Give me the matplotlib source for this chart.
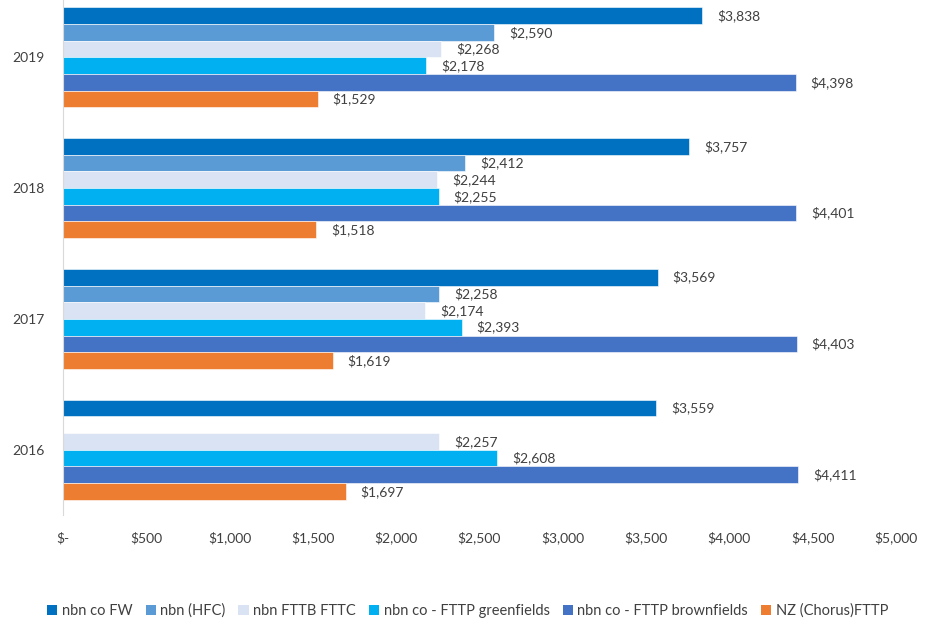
import numpy as np
import matplotlib.pyplot as plt
from matplotlib.patches import Patch

plt.rcParams['font.family'] = ['Lato', 'DejaVu Sans']

# Jahre (von oben nach unten) und Serien
years = ["2019", "2018", "2017", "2016"]
series = ["nbn co FW", "nbn (HFC)", "nbn FTTB FTTC",
          "nbn co - FTTP greenfields", "nbn co - FTTP brownfields",
          "NZ (Chorus)FTTP"]
colors = ["#0070C0", "#5B9BD5", "#DAE3F3", "#00B0F0", "#4472C4", "#ED7D31"]

fw = [3838, 3757, 3569, 3559]
hfc = [2590, 2412, 2258, np.nan]
fttb = [2268, 2244, 2174, 2257]
green = [2178, 2255, 2393, 2608]
brown = [4398, 4401, 4403, 4411]
nz = [1529, 1518, 1619, 1697]

werte = [fw, hfc, fttb, green, brown, nz]

fig = plt.figure(figsize=(9.26, 6.22), dpi=100)
ax = fig.add_axes([0.068, 0.172, 0.8996, 0.841])

n = len(series)
grp = 0.765
h = grp / n
pos = np.arange(len(years))

for i, (vals, c) in enumerate(zip(werte, colors)):
    y = pos - grp / 2 + h * (i + 0.5)
    for yy, v in zip(y, vals):
        if np.isnan(v):
            continue
        ax.barh(yy, v, height=h, color=c, edgecolor="white", linewidth=0.4)
        ax.text(v + 90, yy, f"${v:,.0f}", va="center", ha="left",
                fontsize=10, color="#404040")

ax.set_xlim(0, 5000)
ax.set_ylim(len(years) - 0.5, -0.5)
ax.set_yticks(pos)
ax.set_yticklabels(years, fontsize=10, color="#404040")
ax.set_xticks(np.arange(0, 5001, 500))
ax.set_xticklabels(["$-"] + [f"${t:,}" for t in range(500, 5001, 500)],
                   fontsize=10, color="#404040")
ax.tick_params(length=0, pad=12)
ax.tick_params(axis="y", pad=13)
for s in ["top", "right", "bottom"]:
    ax.spines[s].set_visible(False)
ax.spines["left"].set_color("#d9d9d9")

handles = [Patch(facecolor=c, label=s) for s, c in zip(series, colors)]
fig.legend(handles=handles, loc="center", bbox_to_anchor=(0.505, 0.018),
           ncol=6, frameon=False, fontsize=10.5, handlelength=0.7,
           handleheight=0.7, handletextpad=0.3, columnspacing=0.9,
           labelcolor="#404040")

fig.savefig("out.png", dpi=100)
